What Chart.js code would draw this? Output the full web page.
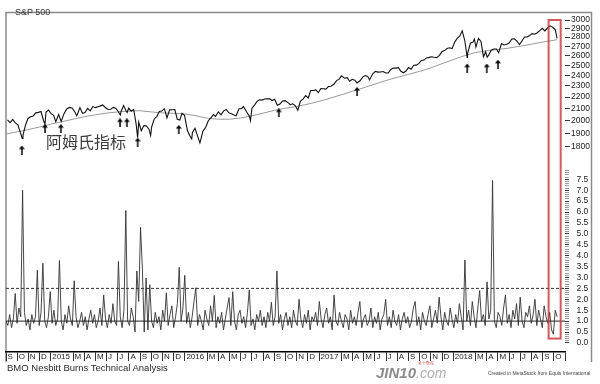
<!DOCTYPE html>
<html><head><meta charset="utf-8">
<script src="https://cdn.jsdelivr.net/npm/chart.js@4.4.1/dist/chart.umd.min.js"></script>
<style>
html,body{margin:0;padding:0;background:#fff;}
#wrap{position:relative;width:600px;height:384px;overflow:hidden;}
canvas{position:absolute;left:0;top:0;}
.t{position:absolute;font-family:"Liberation Sans",Arial,sans-serif;color:#333;white-space:nowrap;line-height:1;}
</style></head><body>
<div id="wrap"><canvas id="c" width="600" height="384"></canvas>
<div class="t" style="left:15px;top:8px;font-size:9px">S&amp;P 500</div>
<div class="t" style="left:46px;top:133px;font-size:16px;font-family:'Noto Sans CJK SC',sans-serif;color:#3a3a3a">阿姆氏指标</div>
<div class="t" style="left:7px;top:363px;font-size:9.5px;color:#2a2a2a">BMO Nesbitt Burns Technical Analysis</div>
<div class="t" style="left:488px;top:371px;font-size:5px;color:#444">Created in MetaStock from Equis International</div>
<div class="t" style="left:376px;top:365px;font-size:15px;font-weight:bold;font-style:italic;color:#8c8c8c">JIN10<span style="font-weight:normal;font-size:14px;color:#b0b0b0">.com</span></div>
<div class="t" style="left:418px;top:361px;font-size:4px;color:#d04040">金十数据</div>
</div>
<script>
// ---------- DATA ----------
const spxDates = [
 '2014-09-05','2014-09-12','2014-09-19','2014-09-26',
 '2014-10-03','2014-10-10','2014-10-15','2014-10-17','2014-10-24','2014-10-31',
 '2014-11-07','2014-11-14','2014-11-21','2014-11-28',
 '2014-12-05','2014-12-12','2014-12-16','2014-12-19','2014-12-26',
 '2015-01-02','2015-01-09','2015-01-15','2015-01-23','2015-01-30',
 '2015-02-06','2015-02-13','2015-02-20','2015-02-27',
 '2015-03-06','2015-03-11','2015-03-13','2015-03-20','2015-03-27',
 '2015-04-03','2015-04-10','2015-04-17','2015-04-24',
 '2015-05-01','2015-05-08','2015-05-15','2015-05-21','2015-05-29',
 '2015-06-05','2015-06-12','2015-06-19','2015-06-26',
 '2015-07-02','2015-07-08','2015-07-10','2015-07-17','2015-07-24','2015-07-27','2015-07-31',
 '2015-08-07','2015-08-14','2015-08-21','2015-08-25','2015-08-28',
 '2015-09-04','2015-09-11','2015-09-18','2015-09-25','2015-09-29',
 '2015-10-02','2015-10-09','2015-10-16','2015-10-23','2015-10-30',
 '2015-11-06','2015-11-13','2015-11-20','2015-11-27',
 '2015-12-04','2015-12-11','2015-12-18','2015-12-24','2015-12-31',
 '2016-01-08','2016-01-15','2016-01-20','2016-01-22','2016-01-29',
 '2016-02-05','2016-02-11','2016-02-19','2016-02-26',
 '2016-03-04','2016-03-11','2016-03-18','2016-03-24',
 '2016-04-01','2016-04-08','2016-04-15','2016-04-22','2016-04-29',
 '2016-05-06','2016-05-13','2016-05-19','2016-05-27',
 '2016-06-03','2016-06-08','2016-06-17','2016-06-24','2016-06-27',
 '2016-07-01','2016-07-08','2016-07-15','2016-07-22','2016-07-29',
 '2016-08-05','2016-08-12','2016-08-19','2016-08-26',
 '2016-09-02','2016-09-09','2016-09-16','2016-09-23','2016-09-30',
 '2016-10-07','2016-10-14','2016-10-21','2016-10-28',
 '2016-11-04','2016-11-11','2016-11-18','2016-11-25',
 '2016-12-02','2016-12-09','2016-12-16','2016-12-23','2016-12-30',
 '2017-01-06','2017-01-13','2017-01-20','2017-01-27',
 '2017-02-03','2017-02-10','2017-02-17','2017-02-24',
 '2017-03-01','2017-03-10','2017-03-17','2017-03-24','2017-03-31',
 '2017-04-07','2017-04-13','2017-04-21','2017-04-28',
 '2017-05-05','2017-05-12','2017-05-17','2017-05-26',
 '2017-06-02','2017-06-09','2017-06-16','2017-06-23','2017-06-30',
 '2017-07-07','2017-07-14','2017-07-21','2017-07-28',
 '2017-08-04','2017-08-11','2017-08-18','2017-08-25',
 '2017-09-01','2017-09-08','2017-09-15','2017-09-22','2017-09-29',
 '2017-10-06','2017-10-13','2017-10-20','2017-10-27',
 '2017-11-03','2017-11-10','2017-11-17','2017-11-24',
 '2017-12-01','2017-12-08','2017-12-15','2017-12-22','2017-12-29',
 '2018-01-05','2018-01-12','2018-01-19','2018-01-26',
 '2018-02-02','2018-02-08','2018-02-09','2018-02-16','2018-02-23','2018-02-26',
 '2018-03-02','2018-03-09','2018-03-16','2018-03-23','2018-03-29',
 '2018-04-02','2018-04-06','2018-04-13','2018-04-20','2018-04-27',
 '2018-05-03','2018-05-11','2018-05-18','2018-05-25',
 '2018-06-01','2018-06-08','2018-06-15','2018-06-22','2018-06-29',
 '2018-07-06','2018-07-13','2018-07-20','2018-07-27',
 '2018-08-03','2018-08-10','2018-08-17','2018-08-24','2018-08-31',
 '2018-09-07','2018-09-14','2018-09-21','2018-09-28',
 '2018-10-05','2018-10-10'
];
const spxClose = [
 2007,1985,2010,1982,
 1967,1906,1862,1886,1964,2018,
 2032,2039,2064,2068,
 2075,2002,1972,2071,2088,
 2058,2044,1992,2051,1995,
 2055,2097,2110,2104,
 2071,2040,2053,2108,2061,
 2067,2102,2081,2117,
 2108,2116,2123,2131,2107,
 2092,2094,2110,2101,
 2076,2046,2076,2126,2079,2067,2104,
 2078,2092,1971,1867,1989,
 1921,1961,1958,1931,1884,
 1951,2014,2033,2075,2079,
 2099,2023,2089,2090,
 2092,2012,2005,2061,2044,
 1922,1880,1859,1907,1940,
 1880,1829,1918,1948,
 2000,2022,2050,2035,
 2073,2048,2081,2092,2065,
 2057,2047,2040,2099,
 2099,2119,2071,2037,2000,
 2103,2130,2162,2175,2173,
 2183,2184,2184,2169,
 2180,2128,2139,2165,2168,
 2153,2133,2141,2126,
 2085,2164,2182,2213,
 2192,2259,2258,2264,2239,
 2277,2275,2271,2295,
 2297,2316,2351,2367,
 2396,2373,2378,2344,2363,
 2355,2329,2349,2384,
 2399,2391,2357,2416,
 2439,2432,2433,2438,2423,
 2425,2459,2473,2472,
 2476,2441,2426,2443,
 2477,2461,2500,2502,2519,
 2549,2553,2575,2581,
 2588,2582,2579,2602,
 2642,2652,2675,2683,2674,
 2743,2786,2810,2873,
 2762,2581,2620,2732,2747,2779,
 2691,2786,2752,2588,2641,
 2582,2604,2656,2670,2670,
 2630,2728,2713,2721,
 2735,2779,2780,2755,2718,
 2760,2801,2802,2819,
 2840,2833,2850,2875,2902,
 2872,2905,2930,2914,
 2886,2786
];
// 200-day moving average at each month start (Sep 2014 .. Oct 2018), then last day
const maMonthly = [
 1895,1912,1930,1950,
 1972,1992,2012,2032,2048,2062,2072,2080,2082,2072,2064,2060,
 2055,2040,2020,2012,2012,2022,2040,2062,2085,2103,2118,2138,
 2162,2190,2220,2252,2284,2318,2352,2382,2410,2440,2474,2516,
 2558,2598,2632,2652,2664,2680,2700,2722,2745,2765
];
const maLast = 2772;
// Arms index (TRIN), sampled evenly from Sep 2014 to 10 Oct 2018
const trin = [
 1.0,0.8,1.3,0.7,1.1,2.27,0.9,1.6,1.2,7.0,1.4,0.8,1.1,0.6,1.3,0.9,1.2,3.33,0.8,1.4,
 3.65,1.0,0.7,1.2,2.35,0.9,1.5,0.8,1.1,3.78,1.0,0.6,1.3,0.9,1.7,1.1,0.8,2.85,1.2,0.7,
 1.0,1.4,0.8,1.2,0.6,1.1,1.5,0.9,1.3,0.7,1.0,1.6,0.8,2.2,1.1,0.7,1.3,0.9,1.8,1.0,
 0.8,3.73,1.2,0.7,1.5,6.07,1.0,0.8,1.6,1.2,0.5,3.3,1.9,5.3,3.4,0.5,2.98,0.6,2.67,1.0,
 0.7,1.4,0.9,1.2,0.6,1.5,1.0,2.3,0.8,1.3,1.7,0.7,1.2,1.8,3.47,1.0,1.6,3.1,0.9,1.4,
 0.7,1.2,1.9,2.53,0.8,1.3,1.0,0.6,1.5,1.1,0.8,1.7,1.0,2.18,0.7,1.2,0.9,1.4,0.6,1.1,
 1.6,2.08,0.8,2.35,1.0,0.6,1.3,1.5,0.9,1.2,0.7,1.4,2.43,0.8,1.1,0.6,1.3,1.0,1.5,0.8,
 1.2,0.7,1.4,1.0,1.86,0.8,1.2,3.3,0.9,1.3,0.6,1.1,1.4,0.8,1.2,0.7,1.5,1.0,0.8,2.0,
 1.1,0.7,1.3,0.9,1.5,0.6,1.2,1.0,1.4,0.8,1.9,1.1,0.7,1.3,1.6,0.9,1.2,0.6,2.2,1.0,
 0.8,1.4,1.0,0.7,1.3,1.1,0.6,1.5,0.9,1.2,0.8,1.4,1.9,0.7,1.1,1.3,0.8,1.0,1.6,0.7,
 1.2,0.9,1.4,0.6,1.1,1.3,2.0,0.8,1.2,0.7,1.5,1.0,0.8,1.3,0.6,1.1,1.4,0.9,1.2,0.7,
 1.0,1.6,1.9,0.8,1.2,0.6,1.4,1.0,0.8,1.3,1.7,0.7,1.1,1.5,0.9,2.1,1.2,0.6,1.4,1.0,
 0.8,1.6,1.1,0.7,1.3,0.9,1.8,1.2,0.6,3.8,1.0,1.5,0.8,1.9,1.2,0.7,1.6,2.4,1.0,1.3,
 0.8,2.8,1.1,1.5,7.45,1.0,0.7,1.4,1.2,0.8,1.6,2.2,0.9,1.3,0.7,1.5,1.1,1.8,0.8,2.1,
 1.0,0.7,1.4,1.2,1.7,0.9,1.3,2.0,0.8,1.5,1.1,0.7,1.7,1.2,0.9,1.4,0.6,0.4,1.5,1.2
];
const trinStart = '2014-09-01', trinEnd = '2018-10-10';
// Arrows under the Arms-index signals (date, S&P level at the arrow)
const arrowDates = ['2014-10-14','2014-12-16','2015-01-29','2015-07-07','2015-07-26','2015-08-25','2015-12-15','2016-09-13','2017-04-13','2018-02-08','2018-04-01','2018-05-01'];
const arrowLevels = [1777,1937,1937,1983,1983,1834,1930,2063,2249,2472,2472,2511];
const spxTicks = [1800,1900,2000,2100,2200,2300,2400,2500,2600,2700,2800,2900,3000];
const trinLabelTicks = [0,0.5,1,1.5,2,2.5,3,3.5,4,4.5,5,5.5,6,6.5,7,7.5];
const monthLetters = ['J','F','M','A','M','J','J','A','S','O','N','D'];
const trinSignal = 2.5, trinNeutral = 1.0;
const boxDates = ['2018-09-17','2018-10-20'];
const boxTop = 3000, boxBottom = 0.2;

// ---------- helpers ----------
function monthPos(s){
  const [y,m,d] = s.split('-').map(Number);
  const dim = new Date(y, m, 0).getDate();
  return (y-2014)*12 + (m-9) + (d-1)/dim;
}
const spxPts = spxDates.map((d,i)=>({x:monthPos(d), y:spxClose[i]}));
const maPts = maMonthly.map((v,i)=>({x:i, y:v})).concat([{x:monthPos(trinEnd), y:maLast}]);
const t0 = monthPos(trinStart), t1 = monthPos(trinEnd);
const trinPts = trin.map((v,i)=>({x: t0 + (t1-t0)*i/(trin.length-1), y:v}));
const arrowPts = arrowDates.map((d,i)=>({x:monthPos(d), y:arrowLevels[i]}));
const xMax = 50;
const xTicks = [], xLabels = [];
for(let k=0;k<=xMax;k++){
  const cm = (8+k)%12, yr = 2014 + Math.floor((8+k)/12);
  if(cm===1) continue;
  xTicks.push(k);
  xLabels.push(k===xMax ? '' : (cm===0 ? String(yr) : monthLetters[cm]));
}
const trinTickVals = [];
for(let k=0;k<=79;k++) trinTickVals.push(k/10);

const arrowImg = document.createElement('canvas');
arrowImg.width = 6; arrowImg.height = 9;
(function(){const a=arrowImg.getContext('2d'); a.fillStyle='#000';
 a.beginPath(); a.moveTo(3,0); a.lineTo(6,3.6); a.lineTo(0,3.6); a.closePath(); a.fill();
 a.fillRect(2.3,3,1.5,6);})();

const FONT = '"Liberation Sans", Arial, sans-serif';

const framePlugin = {
  id:'frame',
  beforeDraw(c){
    const {ctx, chartArea:a} = c;
    ctx.save(); ctx.strokeStyle='#8a8a8a'; ctx.lineWidth=1.5;
    ctx.beginPath();
    ctx.moveTo(a.left, a.bottom+10); ctx.lineTo(a.left, a.top);
    ctx.lineTo(c.width-8.5, a.top); ctx.lineTo(c.width-8.5, a.bottom+10);
    ctx.stroke(); ctx.restore();
  },
  afterDatasetsDraw(c){
    const {ctx, scales} = c;
    const x0 = scales.x.getPixelForValue(monthPos(boxDates[0]));
    const x1 = scales.x.getPixelForValue(monthPos(boxDates[1]));
    const y0 = scales.ys.getPixelForValue(boxTop);
    const y1 = scales.yt.getPixelForValue(boxBottom);
    ctx.save(); ctx.strokeStyle='rgba(205,60,60,0.85)'; ctx.lineWidth=2;
    ctx.strokeRect(x0, y0, x1-x0, y1-y0); ctx.restore();
  }
};

new Chart(document.getElementById('c'), {
  data:{datasets:[
    {type:'scatter', data:arrowPts, yAxisID:'ys', pointStyle:arrowImg, pointRadius:5, clip:false},
    {type:'line', data:spxPts, yAxisID:'ys', borderColor:'#111', borderWidth:1.1, pointRadius:0, tension:0},
    {type:'line', data:maPts, yAxisID:'ys', borderColor:'#9a9a9a', borderWidth:1, pointRadius:0, tension:0},
    {type:'line', data:[{x:0,y:trinNeutral},{x:xMax,y:trinNeutral}], yAxisID:'yt', borderColor:'#222', borderWidth:1, pointRadius:0},
    {type:'line', data:[{x:0,y:trinSignal},{x:xMax,y:trinSignal}], yAxisID:'yt', borderColor:'#333', borderWidth:1, borderDash:[3,2], pointRadius:0},
    {type:'line', data:trinPts, yAxisID:'yt', borderColor:'#333', borderWidth:0.9, pointRadius:0, tension:0}
  ]},
  options:{
    responsive:false, animation:false, devicePixelRatio:1,
    layout:{padding:{left:6, top:4, right:9, bottom:22}},
    plugins:{legend:{display:false}, tooltip:{enabled:false}},
    scales:{
      x:{type:'linear', min:0, max:xMax, bounds:'data', position:'bottom',
        afterBuildTicks(s){ s.ticks = xTicks.map(v=>({value:v})); },
        afterFit(s){ s.height = 10; },
        ticks:{autoSkip:false, maxRotation:0, minRotation:0, align:'start', padding:-9, labelOffset:1.5,
          font:{size:8, family:FONT}, color:'#222', callback:(v,i)=>xLabels[i]},
        grid:{drawOnChartArea:false, drawTicks:true, tickLength:9, color:'#333', lineWidth:1},
        border:{display:true, color:'#000', width:1.5}
      },
      ys:{type:'logarithmic', position:'right', stack:'panels', stackWeight:156, weight:0,
        min:1675.3, max:3092.2, bounds:'data',
        afterBuildTicks(s){ s.ticks = spxTicks.map(v=>({value:v})); },
        afterFit(s){ s.width = 26; },
        ticks:{autoSkip:false, padding:1, font:{size:8.5, family:FONT}, color:'#222', callback:v=>String(v)},
        grid:{drawOnChartArea:false, tickLength:5, color:'#333'},
        border:{display:false}
      },
      yt:{type:'linear', position:'right', stack:'panels', stackWeight:192, weight:1,
        min:-0.416, max:8.171, bounds:'data',
        afterBuildTicks(s){ s.ticks = trinTickVals.map(v=>({value:v})); },
        afterFit(s){ s.width = 26; },
        ticks:{autoSkip:false, padding:7.4, font:{size:8.5, family:FONT}, color:'#222',
          callback:v=> trinLabelTicks.some(t=>Math.abs(t-v)<1e-6) ? v.toFixed(1) : ''},
        grid:{drawOnChartArea:false, tickLength:4,
          tickColor:c=> (Math.round(c.tick.value*10)%5===0) ? '#333' : '#999'},
        border:{display:false}
      }
    }
  },
  plugins:[framePlugin]
});
</script>
</body></html>
